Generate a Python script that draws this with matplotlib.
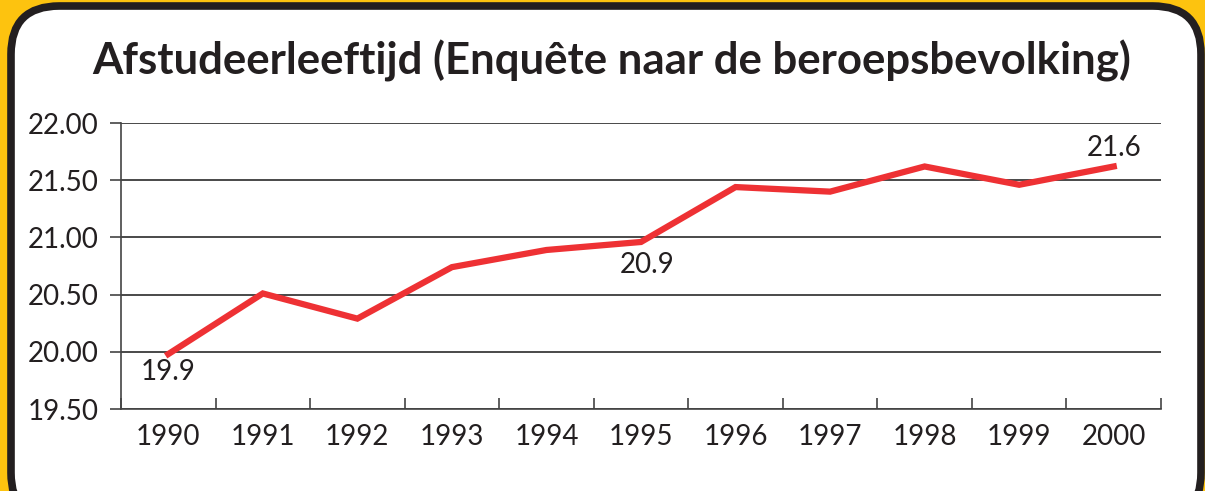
import matplotlib.pyplot as plt
from matplotlib.patches import FancyBboxPatch
import numpy as np

years = ['1990', '1991', '1992', '1993', '1994', '1995', '1996', '1997', '1998', '1999', '2000']
age = [19.98, 20.51, 20.29, 20.74, 20.89, 20.96, 21.44, 21.40, 21.62, 21.46, 21.62]
# labelled points: (index, text)
label_idx = [0, 5, 10]
label_txt = ['19.9', '20.9', '21.6']
yticks = [19.5, 20.0, 20.5, 21.0, 21.5, 22.0]

plt.rcParams['font.family'] = ['Lato', 'DejaVu Sans']

fig = plt.figure(figsize=(12.05, 4.91), dpi=100)
fig.patch.set_facecolor('#FDC30F')

W, H = 1205, 491
box = FancyBboxPatch((11 / W, -30 / H), 1190 / W, 515 / H,
                     boxstyle='round,pad=0,rounding_size=0.04',
                     transform=fig.transFigure, facecolor='white',
                     edgecolor='#231F20', linewidth=5.5, mutation_aspect=W / H,
                     zorder=-10)
fig.patches.append(box)

fig.text(0.508, 0.876, 'Afstudeerleeftijd (Enquête naar de beroepsbevolking)',
         ha='center', va='center', fontsize=31.5, fontweight='bold', color='#231F20')

ax = fig.add_axes([121 / W, 1 - 409 / H, 1040 / W, 286 / H])
ax.set_facecolor('none')
x = np.arange(len(years))
ax.plot(x, age, color='#EE3134', linewidth=4.5, solid_joinstyle='miter', zorder=3)

ax.set_xlim(-0.5, len(years) - 0.5)
ax.set_ylim(19.5, 22.0)
ax.set_yticks(yticks)
ax.set_yticklabels([f'{v:.2f}' for v in yticks])
ax.set_xticks(x)
ax.set_xticklabels(years)
ax.set_xticks(np.arange(-0.5, len(years)), minor=True)
ax.tick_params(axis='x', which='major', length=0, pad=11, labelsize=20, colors='#231F20')
ax.tick_params(axis='x', which='minor', length=8, direction='in', color='#444444', width=1.2)
ax.tick_params(axis='y', length=8, direction='out', color='#444444', width=1.2,
               labelsize=20, colors='#231F20', pad=8)
ax.grid(axis='y', color='#3a3a3a', linewidth=1.3, zorder=1)
for s in ['top', 'right']:
    ax.spines[s].set_visible(False)
ax.spines['left'].set_color('#444444')
ax.spines['left'].set_linewidth(1.2)
ax.spines['bottom'].set_color('#444444')
ax.spines['bottom'].set_linewidth(1.2)

offsets = {0: (0.0, -0.16), 5: (0.07, -0.2), 10: (0, 0.16)}
for i, t in zip(label_idx, label_txt):
    dx, dy = offsets[i]
    ax.text(x[i] + dx, age[i] + dy, t, ha='center', va='center', fontsize=20, color='#231F20')

fig.savefig('out.png', dpi=100, facecolor=fig.get_facecolor())
